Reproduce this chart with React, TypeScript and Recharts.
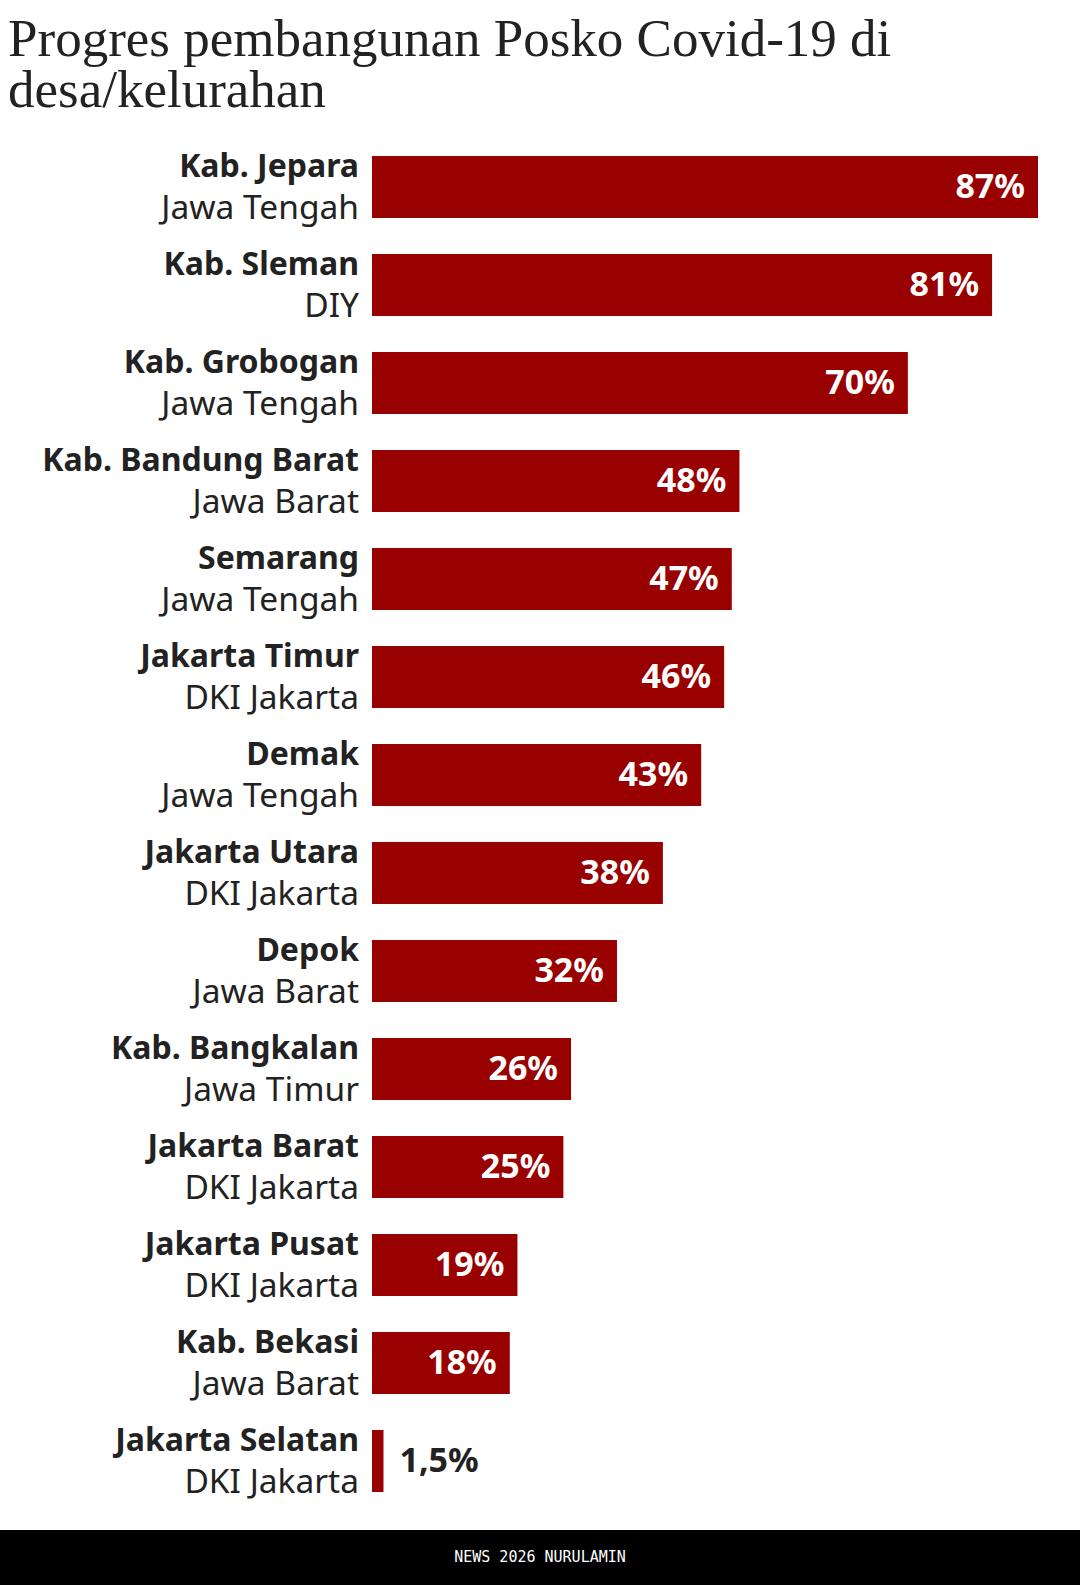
import React from "react";
import { Bar, BarChart, LabelList, XAxis, YAxis } from "recharts";

const names = [
  "Kab. Jepara",
  "Kab. Sleman",
  "Kab. Grobogan",
  "Kab. Bandung Barat",
  "Semarang",
  "Jakarta Timur",
  "Demak",
  "Jakarta Utara",
  "Depok",
  "Kab. Bangkalan",
  "Jakarta Barat",
  "Jakarta Pusat",
  "Kab. Bekasi",
  "Jakarta Selatan",
];

const regions = [
  "Jawa Tengah",
  "DIY",
  "Jawa Tengah",
  "Jawa Barat",
  "Jawa Tengah",
  "DKI Jakarta",
  "Jawa Tengah",
  "DKI Jakarta",
  "Jawa Barat",
  "Jawa Timur",
  "DKI Jakarta",
  "DKI Jakarta",
  "Jawa Barat",
  "DKI Jakarta",
];

const progress = [87, 81, 70, 48, 47, 46, 43, 38, 32, 26, 25, 19, 18, 1.5];

const data = names.map((name, i) => ({
  name,
  region: regions[i],
  value: progress[i],
}));

const SANS = "'Noto Sans', 'Open Sans', sans-serif";
const RED = "#990000";
const INK = "#222222";

const fmt = (v: number) => String(v).replace(".", ",") + "%";

const NameTick = (props: any) => {
  const { x, y, payload } = props;
  const region = regions[payload.index];
  return (
    <g>
      <text
        x={x}
        y={y - 10}
        textAnchor="end"
        fontFamily={SANS}
        fontWeight={700}
        fontSize={32}
        fill={INK}
      >
        {payload.value}
      </text>
      <text
        x={x}
        y={y + 32}
        textAnchor="end"
        fontFamily={SANS}
        fontWeight={400}
        fontSize={33.5}
        fill={INK}
      >
        {region}
      </text>
    </g>
  );
};

const ValueLabel = (props: any) => {
  const { x, y, width, height, value } = props;
  const inside = value >= 10;
  return (
    <text
      x={inside ? x + width - 13 : x + width + 16}
      y={y + height / 2 + 11}
      textAnchor={inside ? "end" : "start"}
      fontFamily={SANS}
      fontWeight={700}
      fontSize={34}
      fill={inside ? "#ffffff" : INK}
    >
      {fmt(value)}
    </text>
  );
};

export default function App() {
  return (
    <div
      style={{
        position: "absolute",
        left: 0,
        top: 0,
        width: 1080,
        height: 1585,
        background: "#ffffff",
        overflow: "hidden",
      }}
    >
      <div
        style={{
          position: "absolute",
          left: 8,
          top: 13,
          fontFamily: "'Liberation Serif', serif",
          fontSize: 53,
          lineHeight: "51px",
          color: INK,
        }}
      >
        Progres pembangunan Posko Covid-19 di
        <br />
        desa/kelurahan
      </div>
      <div style={{ position: "absolute", left: 0, top: 0 }}>
        <BarChart
          width={1080}
          height={1530}
          data={data}
          layout="vertical"
          margin={{ top: 138, right: 42, bottom: 20, left: 0 }}
        >
          <XAxis type="number" hide domain={[0, "dataMax"]} />
          <YAxis
            type="category"
            dataKey="name"
            width={372}
            tickLine={false}
            axisLine={false}
            tickSize={0}
            tickMargin={13}
            interval={0}
            tick={<NameTick />}
          />
          <Bar dataKey="value" fill={RED} barSize={62} isAnimationActive={false}>
            <LabelList dataKey="value" content={<ValueLabel />} />
          </Bar>
        </BarChart>
      </div>
      <div
        style={{
          position: "absolute",
          left: 0,
          top: 1530,
          width: 1080,
          height: 55,
          background: "#000000",
          color: "#ffffff",
          fontFamily: "'DejaVu Sans Mono', monospace",
          fontSize: 15,
          lineHeight: "55px",
          textAlign: "center",
        }}
      >
        NEWS 2026 NURULAMIN
      </div>
    </div>
  );
}
